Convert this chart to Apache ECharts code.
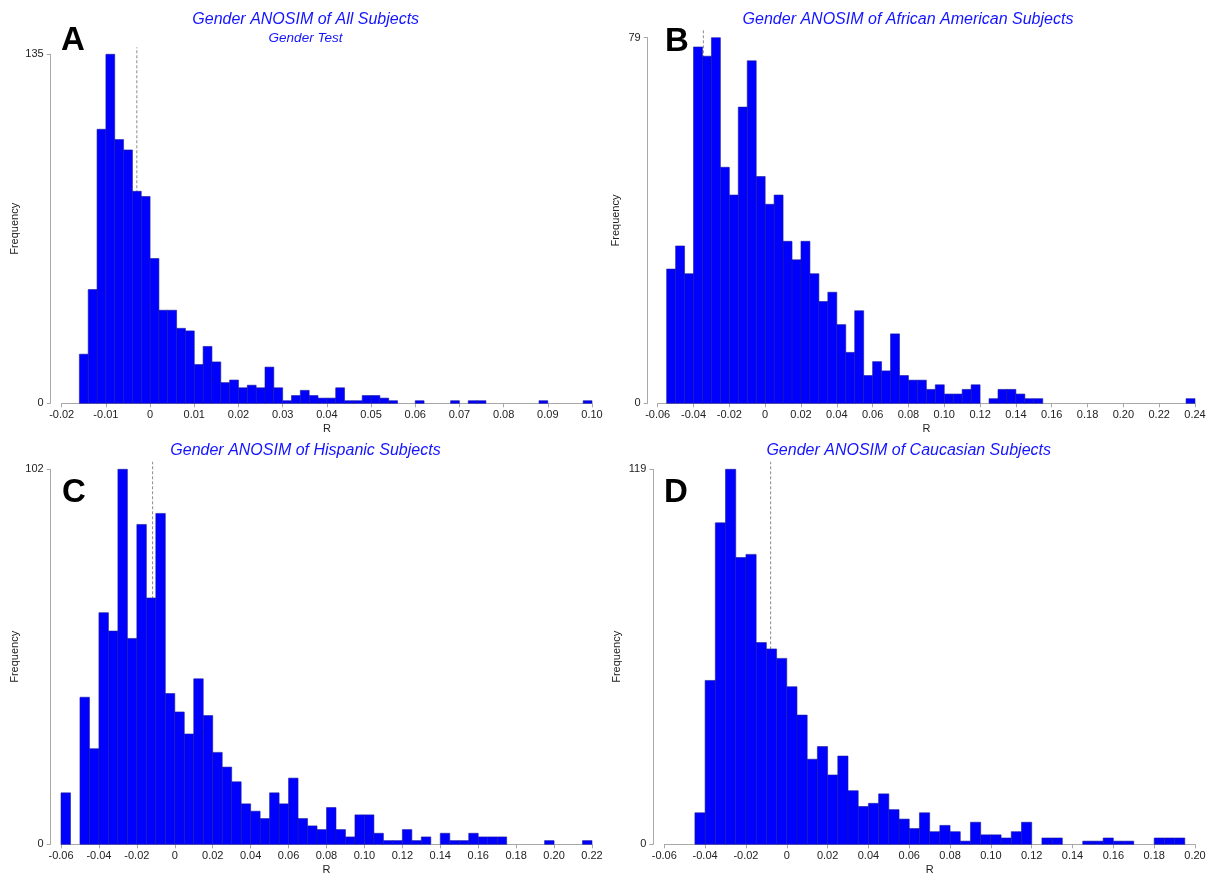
<!DOCTYPE html>
<html>
<head>
<meta charset="utf-8">
<title>Gender ANOSIM</title>
<script src="https://cdn.jsdelivr.net/npm/echarts@6/dist/echarts.min.js"></script>
<style>
  html, body { margin: 0; padding: 0; background: #fff; }
  #chart { width: 1215px; height: 877px; }
</style>
</head>
<body>
<div id="chart"></div>
<script>
// histogram counts of permuted R, one bin per entry
// A: all subjects, bins of 0.002 from -0.016
const countsA = [19, 44, 106, 135, 102, 98, 82, 80, 56, 36, 36, 29, 28, 15, 22, 16, 8, 9, 6, 7,
  6, 14, 6, 1, 3, 5, 3, 2, 2, 6, 1, 1, 3, 3, 2, 1, 0, 0, 1, 0,
  0, 0, 1, 0, 1, 1, 0, 0, 0, 0, 0, 0, 1, 0, 0, 0, 0, 1];
const binStartA = -0.016;
const binWidthA = 0.002;
const observedA = -0.003;

// B: african american subjects, bins of 0.005 from -0.055
const countsB = [29, 34, 28, 77, 75, 79, 51, 45, 64, 74, 49, 43, 45, 35, 31, 35, 28, 22, 24, 17,
  11, 20, 6, 9, 7, 15, 6, 5, 5, 3, 4, 2, 2, 3, 4, 0, 1, 3, 3, 2,
  1, 1, 0, 0, 0, 0, 0, 0, 0, 0, 0, 0, 0, 0, 0, 0, 0, 0, 1];
const binStartB = -0.055;
const binWidthB = 0.005;
const observedB = -0.0345;

// C: hispanic subjects, bins of 0.005 from -0.06
const countsC = [14, 0, 40, 26, 63, 58, 102, 56, 87, 67, 90, 41, 36, 30, 45, 35, 25, 21, 17, 11,
  9, 7, 14, 11, 18, 7, 5, 4, 10, 4, 2, 8, 8, 3, 1, 1, 4, 1, 2, 0,
  3, 1, 1, 3, 2, 2, 2, 0, 0, 0, 0, 1, 0, 0, 0, 1];
const binStartC = -0.06;
const binWidthC = 0.005;
const observedC = -0.0117;

// D: caucasian subjects, bins of 0.005 from -0.045
const countsD = [10, 52, 102, 119, 91, 92, 64, 62, 59, 50, 41, 27, 31, 22, 28, 17, 12, 13, 16, 11,
  8, 5, 10, 4, 6, 4, 1, 7, 3, 3, 2, 4, 7, 0, 2, 2, 0, 0, 1, 1,
  2, 1, 1, 0, 0, 2, 2, 2];
const binStartD = -0.045;
const binWidthD = 0.005;
const observedD = -0.0079;

const titles = [
  'Gender ANOSIM of All Subjects',
  'Gender ANOSIM of African American Subjects',
  'Gender ANOSIM of Hispanic Subjects',
  'Gender ANOSIM of Caucasian Subjects'
];
const panelLetters = ['A', 'B', 'C', 'D'];

const FONT = '"Liberation Sans", Arial, sans-serif';
const AXIS_GRAY = '#a8a8a8';
const TEXT_DARK = '#222';

const panels = [
  { counts: countsA, start: binStartA, width: binWidthA, obs: observedA,
    xmin: -0.02, xmax: 0.10, step: 0.01,
    grid: { left: 61.7, top: 54.3, width: 530.3, height: 349 }, yOffset: 11, nameGap: 30 },
  { counts: countsB, start: binStartB, width: binWidthB, obs: observedB,
    xmin: -0.06, xmax: 0.24, step: 0.02,
    grid: { left: 657.7, top: 37.7, width: 537.3, height: 365.6 }, yOffset: 10, nameGap: 26 },
  { counts: countsC, start: binStartC, width: binWidthC, obs: observedC,
    xmin: -0.06, xmax: 0.22, step: 0.02,
    grid: { left: 61, top: 469.3, width: 531, height: 375 }, yOffset: 10.3, nameGap: 30 },
  { counts: countsD, start: binStartD, width: binWidthD, obs: observedD,
    xmin: -0.06, xmax: 0.20, step: 0.02,
    grid: { left: 664.3, top: 469.3, width: 530.7, height: 375 }, yOffset: 11, nameGap: 31 }
];

function toBins(p) {
  const out = [];
  p.counts.forEach((c, i) => {
    if (c > 0) {
      const lo = +(p.start + i * p.width).toFixed(4);
      out.push([lo, +(lo + p.width).toFixed(4), c]);
    }
  });
  return out;
}

function renderBin(params, api) {
  const base = api.coord([api.value(0), 0]);
  const top = api.coord([api.value(1), api.value(2)]);
  return {
    type: 'rect',
    shape: { x: base[0], y: top[1], width: top[0] - base[0], height: base[1] - top[1] },
    style: { fill: '#0000ff', stroke: '#1a1aa0', lineWidth: 0.6 }
  };
}

const tickFmt = v => (Math.abs(v) < 1e-9 ? '0' : v.toFixed(2));

const option = {
  animation: false,
  backgroundColor: '#fff',
  grid: panels.map(p => Object.assign({ containLabel: false }, p.grid)),
  xAxis: panels.map((p, i) => ({
    type: 'value',
    gridIndex: i,
    min: p.xmin,
    max: p.xmax,
    interval: p.step,
    name: 'R',
    nameLocation: 'middle',
    nameGap: 20,
    nameTextStyle: { fontFamily: FONT, fontSize: 11, color: TEXT_DARK },
    axisLine: { onZero: false, lineStyle: { color: AXIS_GRAY, width: 1 } },
    axisTick: { length: 4, lineStyle: { color: AXIS_GRAY } },
    axisLabel: { formatter: tickFmt, fontFamily: FONT, fontSize: 11, color: TEXT_DARK, margin: 6 },
    splitLine: { show: false }
  })),
  yAxis: panels.map((p, i) => {
    const peak = Math.max(...p.counts);
    return {
      type: 'value',
      gridIndex: i,
      min: 0,
      max: peak,
      interval: peak,
      offset: p.yOffset,
      name: 'Frequency',
      nameLocation: 'middle',
      nameGap: p.nameGap,
      nameRotate: 90,
      nameTextStyle: { fontFamily: FONT, fontSize: 11, color: TEXT_DARK },
      axisLine: { show: true, onZero: false, lineStyle: { color: AXIS_GRAY, width: 1 } },
      axisTick: { show: true, length: 4, lineStyle: { color: AXIS_GRAY } },
      axisLabel: { fontFamily: FONT, fontSize: 11, color: TEXT_DARK, margin: 7 },
      splitLine: { show: false }
    };
  }),
  series: panels.flatMap((p, i) => {
    const peak = Math.max(...p.counts);
    return [
      {
        type: 'line',
        xAxisIndex: i,
        yAxisIndex: i,
        data: [[p.obs, 0], [p.obs, peak * 1.02]],
        symbol: 'none',
        clip: false,
        silent: true,
        z: 1,
        lineStyle: { color: '#8a8a8a', width: 1, type: [3, 2] }
      },
      {
        type: 'custom',
        xAxisIndex: i,
        yAxisIndex: i,
        renderItem: renderBin,
        encode: { x: [0, 1], y: 2 },
        data: toBins(p),
        z: 2
      }
    ];
  }),
  graphic: [
    // panel titles
    { type: 'text', x: 305.7, y: 20, style: { text: titles[0], font: 'italic 16px ' + FONT, fill: '#1414ff', align: 'center', verticalAlign: 'middle' } },
    { type: 'text', x: 305.5, y: 38, style: { text: 'Gender Test', font: 'italic 13.5px ' + FONT, fill: '#1414ff', align: 'center', verticalAlign: 'middle' } },
    { type: 'text', x: 908, y: 20, style: { text: titles[1], font: 'italic 16px ' + FONT, fill: '#1414ff', align: 'center', verticalAlign: 'middle' } },
    { type: 'text', x: 305.5, y: 451, style: { text: titles[2], font: 'italic 16px ' + FONT, fill: '#1414ff', align: 'center', verticalAlign: 'middle' } },
    { type: 'text', x: 908.7, y: 451, style: { text: titles[3], font: 'italic 16px ' + FONT, fill: '#1414ff', align: 'center', verticalAlign: 'middle' } },
    // panel letters
    { type: 'text', x: 61, y: 40.5, style: { text: panelLetters[0], font: 'bold 33px ' + FONT, fill: '#000', align: 'left', verticalAlign: 'middle' } },
    { type: 'text', x: 665, y: 41.7, style: { text: panelLetters[1], font: 'bold 33px ' + FONT, fill: '#000', align: 'left', verticalAlign: 'middle' } },
    { type: 'text', x: 62, y: 493.3, style: { text: panelLetters[2], font: 'bold 33px ' + FONT, fill: '#000', align: 'left', verticalAlign: 'middle' } },
    { type: 'text', x: 664, y: 493, style: { text: panelLetters[3], font: 'bold 33px ' + FONT, fill: '#000', align: 'left', verticalAlign: 'middle' } }
  ]
};

const chart = echarts.init(document.getElementById('chart'), null, { renderer: 'canvas' });
chart.setOption(option);
</script>
</body>
</html>
